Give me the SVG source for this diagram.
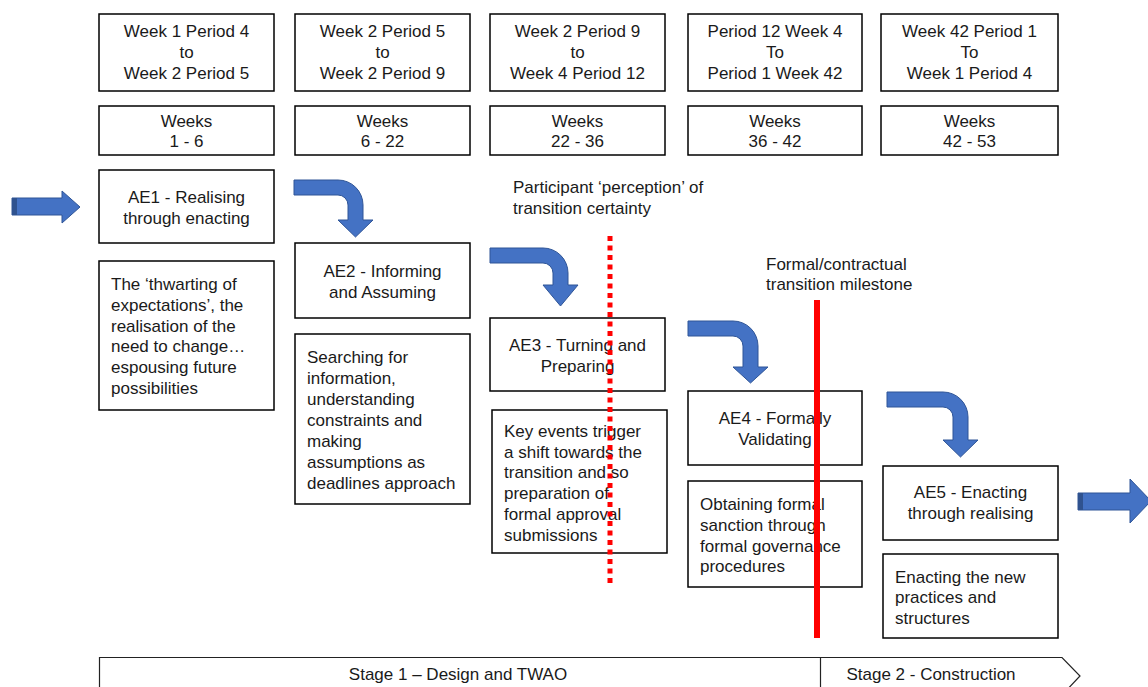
<svg xmlns="http://www.w3.org/2000/svg" width="1148" height="687" viewBox="0 0 1148 687">
  <style>
    .box { fill: #ffffff; stroke: #000000; stroke-width: 1.5; }
    .t { font-family: "Liberation Sans", Arial, sans-serif; font-size: 17px; fill: #1a1a1a; }
    .c { text-anchor: middle; }
    .arrow { fill: #4472C4; stroke: #2F5597; stroke-width: 1; }
    .stage { fill: none; stroke: #222222; stroke-width: 1.2; }
  </style>

  <!-- period headers -->
  <g id="period1"><rect class="box" x="99" y="14" width="175" height="77"/>
    <text class="t c" x="186.5" y="37">Week 1 Period 4</text><text class="t c" x="186.5" y="58">to</text><text class="t c" x="186.5" y="79">Week 2 Period 5</text></g>
  <g id="period2"><rect class="box" x="295" y="14" width="175" height="77"/>
    <text class="t c" x="382.5" y="37">Week 2 Period 5</text><text class="t c" x="382.5" y="58">to</text><text class="t c" x="382.5" y="79">Week 2 Period 9</text></g>
  <g id="period3"><rect class="box" x="490" y="14" width="175" height="77"/>
    <text class="t c" x="577.5" y="37">Week 2 Period 9</text><text class="t c" x="577.5" y="58">to</text><text class="t c" x="577.5" y="79">Week 4 Period 12</text></g>
  <g id="period4"><rect class="box" x="688" y="14" width="174" height="77"/>
    <text class="t c" x="775" y="37">Period 12 Week 4</text><text class="t c" x="775" y="58">To</text><text class="t c" x="775" y="79">Period 1 Week 42</text></g>
  <g id="period5"><rect class="box" x="881" y="14" width="177" height="77"/>
    <text class="t c" x="969.5" y="37">Week 42 Period 1</text><text class="t c" x="969.5" y="58">To</text><text class="t c" x="969.5" y="79">Week 1 Period 4</text></g>

  <!-- week ranges -->
  <g id="weeks1"><rect class="box" x="99" y="106" width="175" height="49"/>
    <text class="t c" x="186.5" y="127">Weeks</text><text class="t c" x="186.5" y="147">1 - 6</text></g>
  <g id="weeks2"><rect class="box" x="295" y="106" width="175" height="49"/>
    <text class="t c" x="382.5" y="127">Weeks</text><text class="t c" x="382.5" y="147">6 - 22</text></g>
  <g id="weeks3"><rect class="box" x="490" y="106" width="175" height="49"/>
    <text class="t c" x="577.5" y="127">Weeks</text><text class="t c" x="577.5" y="147">22 - 36</text></g>
  <g id="weeks4"><rect class="box" x="688" y="106" width="174" height="49"/>
    <text class="t c" x="775" y="127">Weeks</text><text class="t c" x="775" y="147">36 - 42</text></g>
  <g id="weeks5"><rect class="box" x="881" y="106" width="177" height="49"/>
    <text class="t c" x="969.5" y="127">Weeks</text><text class="t c" x="969.5" y="147">42 - 53</text></g>

  <!-- activity episodes -->
  <g id="ae1"><rect class="box" x="99" y="170" width="175" height="73"/>
    <text class="t c" x="186.5" y="203">AE1 - Realising</text><text class="t c" x="186.5" y="224">through enacting</text></g>
  <g id="ae2"><rect class="box" x="295" y="243" width="175" height="75"/>
    <text class="t c" x="382.5" y="277">AE2 - Informing</text><text class="t c" x="382.5" y="298">and Assuming</text></g>
  <g id="ae3"><rect class="box" x="490" y="318" width="175" height="73"/>
    <text class="t c" x="577.5" y="351">AE3 - Turning and</text><text class="t c" x="577.5" y="372">Preparing</text></g>
  <g id="ae4"><rect class="box" x="688" y="391" width="174" height="74"/>
    <text class="t c" x="775" y="424">AE4 - Formally</text><text class="t c" x="775" y="445">Validating</text></g>
  <g id="ae5"><rect class="box" x="883" y="466" width="175" height="74"/>
    <text class="t c" x="970.5" y="498">AE5 - Enacting</text><text class="t c" x="970.5" y="519">through realising</text></g>

  <!-- episode descriptions -->
  <g id="desc1"><rect class="box" x="99" y="261" width="175" height="149"/>
    <text class="t" x="111" y="290">The ‘thwarting of</text><text class="t" x="111" y="311">expectations’, the</text><text class="t" x="111" y="332">realisation of the</text><text class="t" x="111" y="352">need to change…</text><text class="t" x="111" y="373">espousing future</text><text class="t" x="111" y="394">possibilities</text></g>
  <g id="desc2"><rect class="box" x="295" y="334" width="175" height="170"/>
    <text class="t" x="307" y="363">Searching for</text><text class="t" x="307" y="384">information,</text><text class="t" x="307" y="405">understanding</text><text class="t" x="307" y="426">constraints and</text><text class="t" x="307" y="447">making</text><text class="t" x="307" y="468">assumptions as</text><text class="t" x="307" y="489">deadlines approach</text></g>
  <g id="desc3"><rect class="box" x="492" y="410" width="175" height="143"/>
    <text class="t" x="504" y="437">Key events trigger</text><text class="t" x="504" y="458">a shift towards the</text><text class="t" x="504" y="478">transition and so</text><text class="t" x="504" y="499">preparation of</text><text class="t" x="504" y="520">formal approval</text><text class="t" x="504" y="541">submissions</text></g>
  <g id="desc4"><rect class="box" x="688" y="481" width="174" height="106"/>
    <text class="t" x="700" y="510">Obtaining formal</text><text class="t" x="700" y="531">sanction through</text><text class="t" x="700" y="552">formal governance</text><text class="t" x="700" y="572">procedures</text></g>
  <g id="desc5"><rect class="box" x="883" y="554" width="175" height="84"/>
    <text class="t" x="895" y="583">Enacting the new</text><text class="t" x="895" y="603">practices and</text><text class="t" x="895" y="624">structures</text></g>

  <!-- milestone annotations -->
  <g id="perception-label">
    <text class="t" x="513" y="193">Participant ‘perception’ of</text><text class="t" x="513" y="214">transition certainty</text></g>
  <g id="milestone-label">
    <text class="t" x="766" y="270">Formal/contractual</text><text class="t" x="766" y="290">transition milestone</text></g>

  <!-- connectors: flow arrows and milestone lines -->
  <g id="connectors">
    <path class="arrow" d="M12 198 H62 V191 L80 207 L62 223 V215 H12 Z"/>
    <rect x="12" y="198" width="5" height="17" fill="#2F528F"/>
    <path class="arrow" d="M294 180 H338 A25 25 0 0 1 363 205 V220 H373 L355.5 237 L338 220 H348 V205 A10 10 0 0 0 338 195 H294 Z"/>
    <path class="arrow" d="M490 248 H543 A25 25 0 0 1 568 273 V285 H578 L560.5 306 L543 285 H553 V273 A10 10 0 0 0 543 263 H490 Z"/>
    <path class="arrow" d="M688 321 H733 A25 25 0 0 1 758 346 V367 H768 L750.5 383 L733 367 H743 V346 A10 10 0 0 0 733 336 H688 Z"/>
    <path class="arrow" d="M887 392 H943 A25 25 0 0 1 968 417 V440 H978 L960.5 457 L943 440 H953 V417 A10 10 0 0 0 943 407 H887 Z"/>
    <path class="arrow" d="M1078 493 H1130 V479 L1151 501 L1130 523 V510 H1078 Z"/>
    <rect x="1078" y="493" width="5" height="17" fill="#2F528F"/>
    <line x1="610" y1="236" x2="610" y2="587" stroke="#FF0000" stroke-width="5" stroke-dasharray="5 4.5"/>
    <line x1="817" y1="300" x2="817" y2="638" stroke="#FF0000" stroke-width="6"/>
  </g>

  <!-- project stages -->
  <g id="stages">
    <path class="stage" d="M99.5 695 V657.5 H1062 L1080 676 L1062 695"/>
    <line class="stage" x1="820.5" y1="657.5" x2="820.5" y2="695"/>
    <text class="t c" x="458" y="680">Stage 1 – Design and TWAO</text>
    <text class="t c" x="931" y="680">Stage 2 - Construction</text>
  </g>
</svg>
